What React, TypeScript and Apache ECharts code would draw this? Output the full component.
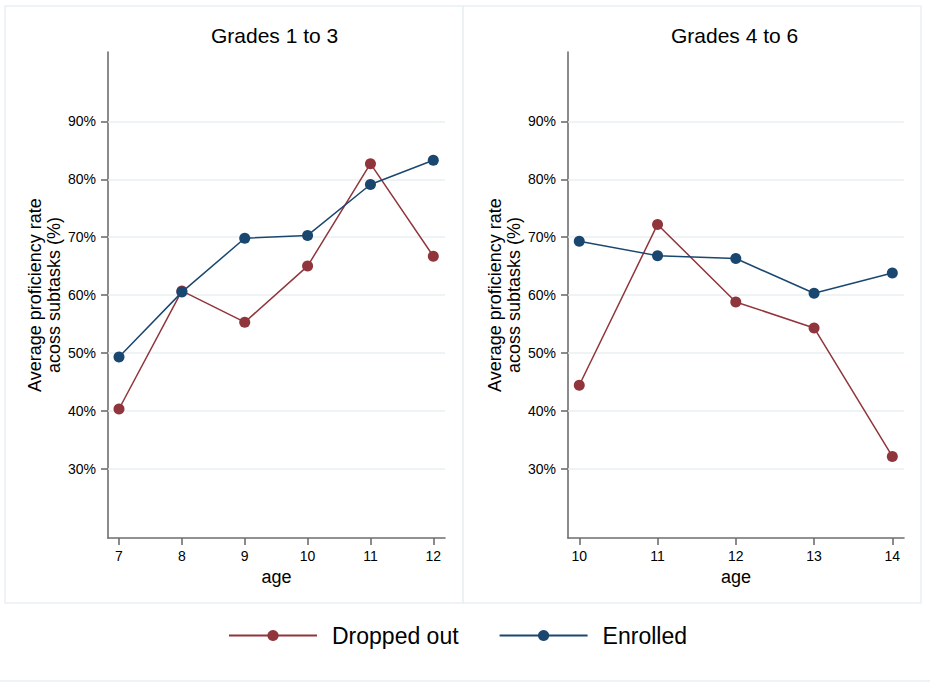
import React, { useEffect, useRef } from "react";
import * as echarts from "echarts";

const panelTitles = ["Grades 1 to 3", "Grades 4 to 6"];
const seriesNames = ["Dropped out", "Enrolled"];
const ages1 = [7, 8, 9, 10, 11, 12];
const dropped1 = [40.3, 60.7, 55.3, 65.0, 82.7, 66.7];
const enrolled1 = [49.3, 60.5, 69.8, 70.3, 79.1, 83.3];
const ages2 = [10, 11, 12, 13, 14];
const dropped2 = [44.4, 72.2, 58.8, 54.3, 32.1];
const enrolled2 = [69.3, 66.8, 66.3, 60.3, 63.8];
const yTicks = [30, 40, 50, 60, 70, 80, 90];

const RED = "#90353b";
const BLUE = "#1a476f";
const AXIS = "#6e6e6e";
const GRIDC = "#e9f1f2";
const FONT = "Liberation Sans, Arial, sans-serif";

export default function App() {
  const ref = useRef<HTMLDivElement>(null);
  useEffect(() => {
    if (!ref.current) return;
    const chart = echarts.init(ref.current, null, { renderer: "svg" });
    const grids = [
      { left: 108, top: 52, width: 337, height: 486 },
      { left: 568, top: 52, width: 336, height: 486 },
    ];
    const xRanges = [
      [6.825, 12.186],
      [9.856, 14.149],
    ];
    const agesList = [ages1, ages2];
    const xAxes = [0, 1].map((i) => ({
      type: "value",
      gridIndex: i,
      min: xRanges[i][0],
      max: xRanges[i][1],
      name: "age",
      nameLocation: "middle",
      nameGap: 27,
      nameTextStyle: { fontSize: 18, color: "#000", fontFamily: FONT },
      axisLine: { show: true, lineStyle: { color: AXIS, width: 1.6 } },
      axisTick: { show: true, length: 7, customValues: agesList[i], lineStyle: { color: AXIS, width: 1.6 } },
      axisLabel: { customValues: agesList[i], fontSize: 14, color: "#000", fontFamily: FONT, margin: 11 },
      splitLine: { show: false },
    }));
    const yAxes = [0, 1].map((i) => ({
      type: "value",
      gridIndex: i,
      min: 18,
      max: 102,
      name: "Average proficiency rate\nacoss subtasks (%)",
      nameLocation: "middle",
      nameRotate: 90,
      nameGap: 45,
      nameTextStyle: { fontSize: 18, color: "#000", fontFamily: FONT, lineHeight: 19 },
      axisLine: { show: true, lineStyle: { color: AXIS, width: 1.6 } },
      axisTick: { show: true, length: 7, customValues: yTicks, lineStyle: { color: AXIS, width: 1.6 } },
      axisLabel: {
        customValues: yTicks,
        fontSize: 14,
        color: "#000",
        fontFamily: FONT,
        margin: 12,
        formatter: (v: number) => `${v}%`,
      },
      splitLine: { show: false },
    }));
    const mk = (name: string, color: string, xs: number[], ys: number[], idx: number, withGrid: boolean) => ({
      type: "line",
      name,
      xAxisIndex: idx,
      yAxisIndex: idx,
      data: xs.map((x, k) => [x, ys[k]]),
      symbol: "circle",
      symbolSize: 11,
      showSymbol: true,
      lineStyle: { color, width: 1.5 },
      itemStyle: { color },
      z: withGrid ? 3 : 4,
      markLine: withGrid
        ? {
            silent: true,
            symbol: "none",
            z: 1,
            label: { show: false },
            lineStyle: { color: GRIDC, width: 1.5, type: "solid" },
            data: yTicks.map((t) => ({ yAxis: t })),
          }
        : undefined,
    });
    chart.setOption({
      animation: false,
      backgroundColor: "#ffffff",
      textStyle: { fontFamily: FONT },
      title: [
        { text: panelTitles[0], left: 211, top: 25, padding: 0, textStyle: { fontSize: 21, fontWeight: "normal", color: "#000", fontFamily: FONT } },
        { text: panelTitles[1], left: 671, top: 25, padding: 0, textStyle: { fontSize: 21, fontWeight: "normal", color: "#000", fontFamily: FONT } },
      ],
      grid: grids,
      xAxis: xAxes,
      yAxis: yAxes,
      legend: {
        data: seriesNames,
        left: 228,
        top: 624,
        padding: 0,
        itemWidth: 88,
        itemHeight: 14,
        itemGap: 40,
        textStyle: { fontSize: 23, color: "#000", fontFamily: FONT, padding: [0, 0, 0, 10] },
      },
      graphic: [
        { type: "rect", shape: { x: 5, y: 6, width: 458, height: 597 }, style: { fill: "none", stroke: GRIDC, lineWidth: 1.5 }, silent: true, z: -1 },
        { type: "rect", shape: { x: 463, y: 6, width: 458, height: 597 }, style: { fill: "none", stroke: GRIDC, lineWidth: 1.5 }, silent: true, z: -1 },
        { type: "line", shape: { x1: 0, y1: 681, x2: 930, y2: 681 }, style: { stroke: GRIDC, lineWidth: 1.5 }, silent: true, z: -1 },
      ],
      series: [
        mk(seriesNames[0], RED, ages1, dropped1, 0, true),
        mk(seriesNames[1], BLUE, ages1, enrolled1, 0, false),
        mk(seriesNames[0], RED, ages2, dropped2, 1, true),
        mk(seriesNames[1], BLUE, ages2, enrolled2, 1, false),
      ],
    });
    return () => chart.dispose();
  }, []);
  return <div ref={ref} style={{ position: "fixed", left: 0, top: 0, width: 930, height: 682 }} />;
}
